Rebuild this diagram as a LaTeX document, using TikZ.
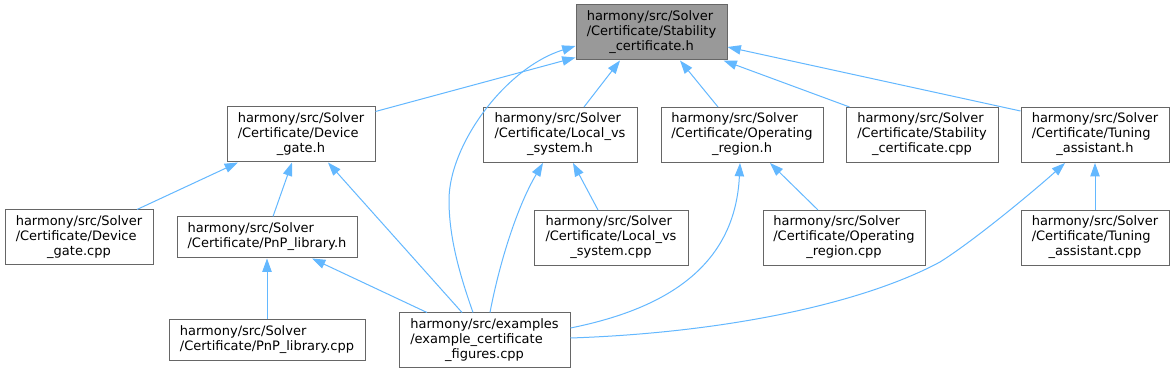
\documentclass[tikz,border=0pt]{standalone}
\usepackage{fontspec}
\setmainfont{DejaVu Sans}
\usepackage{xcolor}
\usepackage{tikz}
\usetikzlibrary{arrows.meta, positioning, calc}
\definecolor{edgeblue}{RGB}{99,184,255}
\definecolor{nodeline}{RGB}{102,102,102}
\definecolor{rootfill}{RGB}{153,153,153}
\newcommand{\flab}[3]{\begin{tabular}{@{}l@{}}#1\\#2\\\multicolumn{1}{@{}c@{}}{#3}\end{tabular}}
\newcommand{\flabtwo}[2]{\begin{tabular}{@{}l@{}}#1\\\multicolumn{1}{@{}c@{}}{#2}\end{tabular}}

\begin{document}
\begin{tikzpicture}[
  x=0.75pt, y=-0.75pt,
  font=\fontsize{9.75}{11.25}\selectfont,
  file/.style={draw=nodeline, line width=0.75pt, fill=white, inner sep=0pt, minimum height=41.25pt, align=center},
  short/.style={file, minimum height=30.75pt},
  root/.style={file, fill=rootfill},
  arr/.style={-{Triangle[length=10pt, width=7pt]}, draw=edgeblue, line width=0.75pt}
]
  \path[fill=white, use as bounding box] (0,0) rectangle (1175,373);

  \node[root, minimum width=113.25pt] (stab) at (651.5,32.5) {\flab{harmony/src/Solver}{/Certificate/Stability}{\_certificate.h}};

  \node[file, minimum width=111pt] (dgh) at (301,134.5) {\flab{harmony/src/Solver}{/Certificate/Device}{\_gate.h}};
  \node[file, minimum width=115.5pt] (lvh) at (560,135) {\flab{harmony/src/Solver}{/Certificate/Local\_vs}{\_system.h}};
  \node[file, minimum width=121.5pt] (orh) at (742,135) {\flab{harmony/src/Solver}{/Certificate/Operating}{\_region.h}};
  \node[file, minimum width=114pt] (scpp) at (922,135) {\flab{harmony/src/Solver}{/Certificate/Stability}{\_certificate.cpp}};
  \node[file, minimum width=111pt] (tah) at (1095,135) {\flab{harmony/src/Solver}{/Certificate/Tuning}{\_assistant.h}};

  \node[file, minimum width=111pt] (dgc) at (79,237.5) {\flab{harmony/src/Solver}{/Certificate/Device}{\_gate.cpp}};
  \node[short, minimum width=135pt] (pnph) at (267,237.5) {\flabtwo{harmony/src/Solver}{/Certificate/PnP\_library.h}};
  \node[file, minimum width=115.5pt] (lvc) at (611,238) {\flab{harmony/src/Solver}{/Certificate/Local\_vs}{\_system.cpp}};
  \node[file, minimum width=121.5pt] (orc) at (844,238) {\flab{harmony/src/Solver}{/Certificate/Operating}{\_region.cpp}};
  \node[file, minimum width=111pt] (tac) at (1095,238) {\flab{harmony/src/Solver}{/Certificate/Tuning}{\_assistant.cpp}};

  \node[short, minimum width=147pt] (pnpc) at (267,340.5) {\flabtwo{harmony/src/Solver}{/Certificate/PnP\_library.cpp}};
  \node[file, minimum width=128.25pt] (ex) at (484.5,340.5) {\flab{harmony/src/examples}{/example\_certificate}{\_figures.cpp}};

  % includes of Stability_certificate.h
  \draw[arr] ($(dgh.north east)+(0,5)$) -- ($(stab.south west)+(0,-3)$);
  \draw[arr] ($(ex.north)+(-11.5,0)$) .. controls (458,270) and (449,235) .. (449,200)
    .. controls (449,145) and (505,68) .. ($(stab.west)+(0,13.5)$);
  \draw[arr] ($(lvh.north)+(24,0)$) -- ($(stab.south)+(-31.5,0)$);
  \draw[arr] ($(orh.north)+(-24,0)$) -- ($(stab.south)+(28.5,0)$);
  \draw[arr] ($(scpp.north west)+(4,0)$) -- ($(stab.south east)+(-4,0)$);
  \draw[arr] ($(tah.north west)+(0,4)$) -- ($(stab.east)+(0,14.5)$);

  % second level
  \draw[arr] ($(dgc.north)+(58,0)$) -- ($(dgh.south)+(-63,0)$);
  \draw[arr] ($(pnph.north)+(6,0)$) -- ($(dgh.south)+(-9,0)$);
  \draw[arr] ($(ex.north)+(-22.5,0)$) -- ($(dgh.south)+(27,0)$);
  \draw[arr] (pnpc.north) -- (pnph.south);
  \draw[arr] ($(ex.north)+(-57.5,0)$) -- ($(pnph.south)+(45,0)$);
  \draw[arr] ($(ex.north)+(5.5,0)$) .. controls (500,260) and (518,205) .. ($(lvh.south)+(-17,0)$);
  \draw[arr] ($(lvc.north)+(-13,0)$) -- ($(lvh.south)+(13,0)$);
  \draw[arr] ($(ex.east)+(0,-12.5)$) .. controls (660,310) and (735,270) .. ($(orh.south)+(-2,0)$);
  \draw[arr] ($(orc.north)+(-26,0)$) -- ($(orh.south)+(28,0)$);
  \draw[arr] ($(ex.east)+(0,-2.5)$) .. controls (720,333) and (860,305) .. (940,262)
    .. controls (975,240) and (1035,190) .. ($(tah.south)+(-30,0)$);
  \draw[arr] (tac.north) -- (tah.south);
\end{tikzpicture}
\end{document}
